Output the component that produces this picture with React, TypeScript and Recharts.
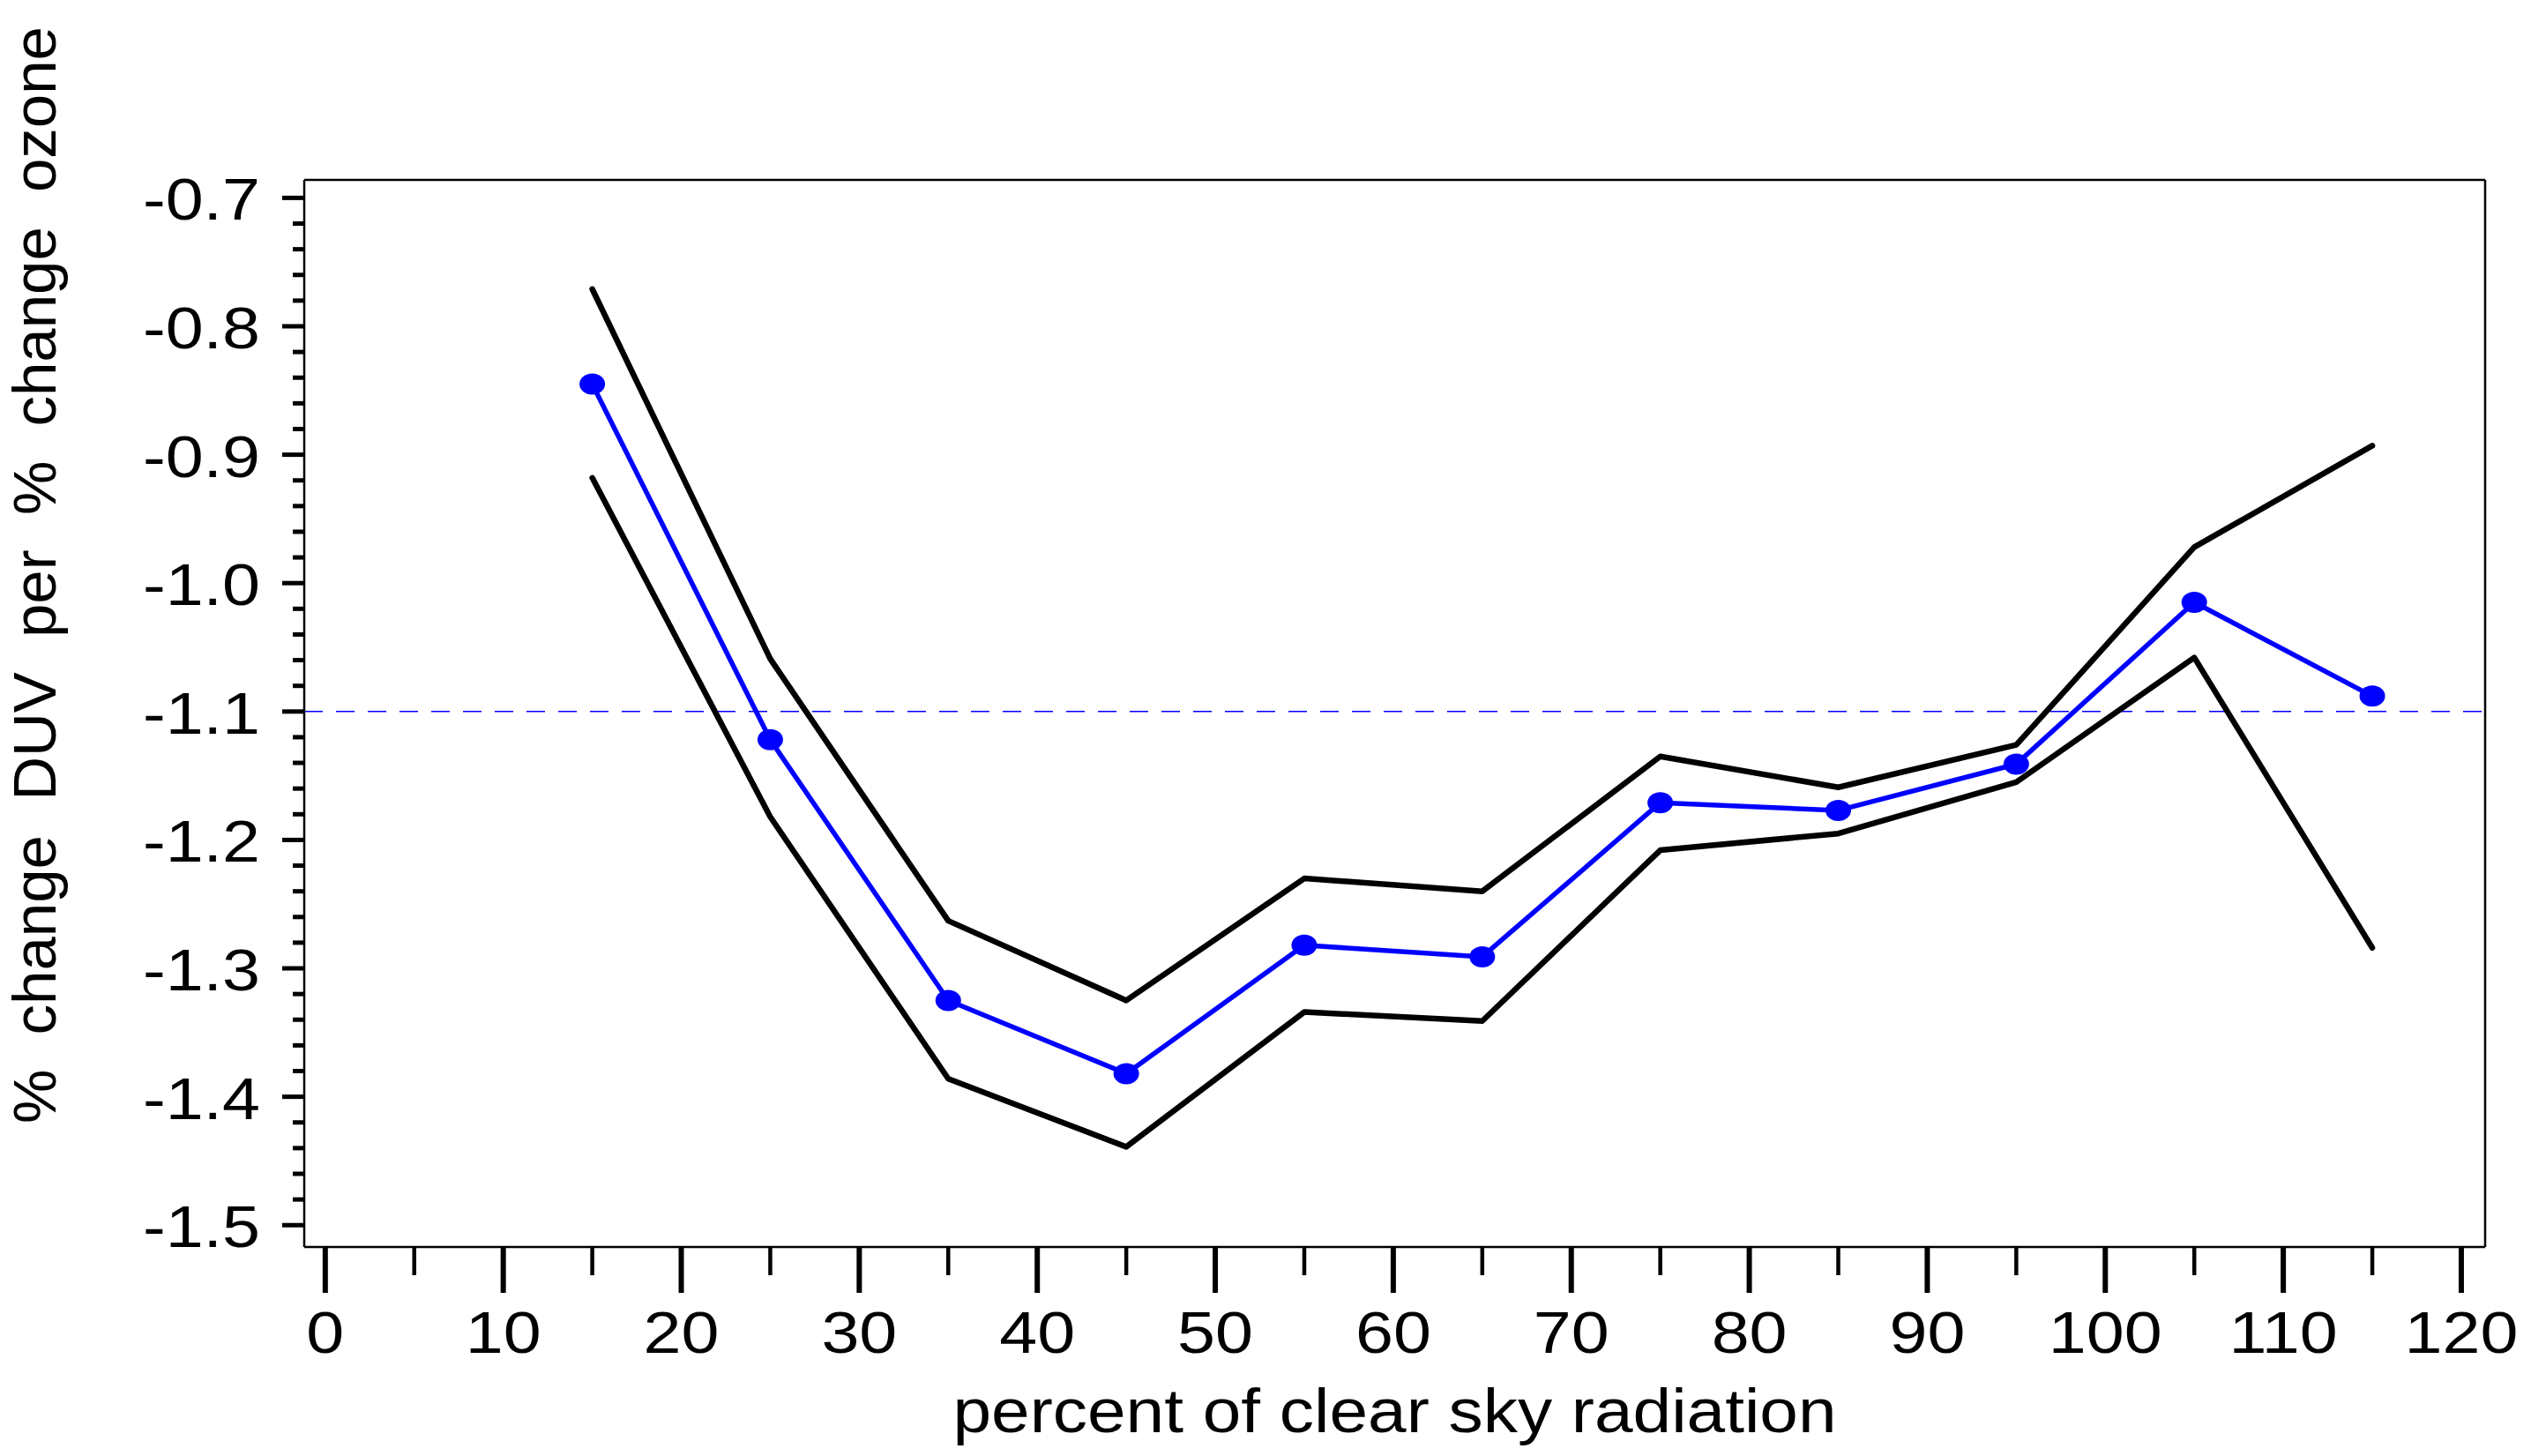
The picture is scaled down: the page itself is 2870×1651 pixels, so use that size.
import React from "react";
import { Line, LineChart, ReferenceLine, XAxis, YAxis } from "recharts";

// percent of clear sky radiation (bin centres)
const xValues = [15, 25, 35, 45, 55, 65, 75, 85, 95, 105, 115];

// % change DUV per % change ozone
const upperBound = [-0.771, -1.059, -1.263, -1.325, -1.23, -1.24, -1.135, -1.159, -1.126, -0.972, -0.893];
const meanRatio = [-0.845, -1.122, -1.325, -1.382, -1.282, -1.291, -1.171, -1.177, -1.141, -1.015, -1.088];
const lowerBound = [-0.918, -1.182, -1.386, -1.439, -1.334, -1.341, -1.208, -1.195, -1.155, -1.058, -1.284];

const referenceValue = -1.1;

const xMajorTicks = [0, 10, 20, 30, 40, 50, 60, 70, 80, 90, 100, 110, 120];
const xMinorTicks = [5, 15, 25, 35, 45, 55, 65, 75, 85, 95, 105, 115];
const yMajorTicks = [-1.5, -1.4, -1.3, -1.2, -1.1, -1.0, -0.9, -0.8, -0.7];
const yMinorTicks = [
  -1.48, -1.46, -1.44, -1.42, -1.38, -1.36, -1.34, -1.32, -1.28, -1.26, -1.24, -1.22,
  -1.18, -1.16, -1.14, -1.12, -1.08, -1.06, -1.04, -1.02, -0.98, -0.96, -0.94, -0.92,
  -0.88, -0.86, -0.84, -0.82, -0.78, -0.76, -0.74, -0.72,
];

const data = xValues.map((x, i) => ({
  x,
  upper: upperBound[i],
  mean: meanRatio[i],
  lower: lowerBound[i],
}));

const FONT = "'Liberation Sans', Arial, Helvetica, sans-serif";
const X_DOMAIN: [number, number] = [-1.18, 121.34];
const Y_DOMAIN: [number, number] = [-1.517, -0.686];

function XTick(props: any) {
  const { x, y, payload } = props;
  const major = xMajorTicks.includes(payload.value);
  return (
    <g>
      <line
        x1={x}
        x2={x}
        y1={y}
        y2={y + (major ? 52 : 32)}
        stroke="#000"
        strokeWidth={major ? 6 : 4.5}
      />
      {major && (
        <text
          transform={`translate(${x},${y + 120}) scale(1.17,1)`}
          textAnchor="middle"
          fontSize={66}
          fontFamily={FONT}
          fill="#000"
        >
          {payload.value}
        </text>
      )}
    </g>
  );
}

function YTick(props: any) {
  const { x, y, payload } = props;
  const major = yMajorTicks.includes(payload.value);
  return (
    <g>
      <line
        x1={x - (major ? 25 : 13)}
        x2={x}
        y1={y}
        y2={y}
        stroke="#000"
        strokeWidth={5}
      />
      {major && (
        <text
          transform={`translate(${x - 50},${y + 25}) scale(1.17,1)`}
          textAnchor="end"
          fontSize={66}
          fontFamily={FONT}
          fill="#000"
        >
          {payload.value.toFixed(1)}
        </text>
      )}
    </g>
  );
}

function XTitle(props: any) {
  const vb = props.viewBox || { x: 345, y: 1414, width: 2473 };
  return (
    <text
      transform={`translate(${vb.x + vb.width / 2},${vb.y + 210}) scale(1.12,1)`}
      textAnchor="middle"
      fontSize={70}
      fontFamily={FONT}
      fill="#000"
    >
      percent of clear sky radiation
    </text>
  );
}

function YTitle(props: any) {
  const vb = props.viewBox || { x: 344, y: 204, height: 1210 };
  return (
    <text
      transform={`translate(${vb.x - 281},${vb.y + vb.height / 2 - 157}) rotate(-90)`}
      textAnchor="middle"
      fontSize={69}
      fontFamily={FONT}
      wordSpacing={20}
      fill="#000"
    >
      % change DUV per % change ozone
    </text>
  );
}

function MeanDot(props: any) {
  const { cx, cy } = props;
  return <ellipse cx={cx} cy={cy} rx={14.5} ry={12} fill="#0000ff" />;
}

const frameLine = { stroke: "#000", strokeWidth: 2.5 };

export default function App() {
  return (
    <div style={{ position: "absolute", left: 0, top: 0, background: "#fff" }}>
      <LineChart
        width={2870}
        height={1651}
        data={data}
        margin={{ top: 203, right: 51, bottom: 236, left: 344 }}
      >
        <XAxis
          dataKey="x"
          type="number"
          domain={X_DOMAIN}
          allowDataOverflow
          ticks={[...xMajorTicks, ...xMinorTicks].sort((a, b) => a - b)}
          interval={0}
          height={1}
          tickSize={0}
          tickMargin={0}
          tickLine={false}
          axisLine={frameLine}
          tick={(p: any) => <XTick {...p} />}
          label={<XTitle />}
        />
        <XAxis
          xAxisId="top"
          dataKey="x"
          type="number"
          orientation="top"
          domain={X_DOMAIN}
          allowDataOverflow
          height={1}
          tick={false}
          tickLine={false}
          axisLine={frameLine}
        />
        <YAxis
          type="number"
          domain={Y_DOMAIN}
          allowDataOverflow
          ticks={[...yMajorTicks, ...yMinorTicks].sort((a, b) => a - b)}
          interval={0}
          width={1}
          tickSize={0}
          tickMargin={0}
          tickLine={false}
          axisLine={frameLine}
          tick={(p: any) => <YTick {...p} />}
          label={<YTitle />}
        />
        <YAxis
          yAxisId="right"
          type="number"
          orientation="right"
          domain={Y_DOMAIN}
          allowDataOverflow
          width={1}
          tick={false}
          tickLine={false}
          axisLine={frameLine}
        />
        <ReferenceLine
          y={referenceValue}
          stroke="#0000ff"
          strokeWidth={1.5}
          strokeDasharray="21 15"
        />
        <Line
          type="linear"
          dataKey="upper"
          stroke="#000"
          strokeWidth={6.5}
          strokeLinecap="round"
          strokeLinejoin="round"
          dot={false}
          activeDot={false}
          isAnimationActive={false}
        />
        <Line
          type="linear"
          dataKey="lower"
          stroke="#000"
          strokeWidth={6.5}
          strokeLinecap="round"
          strokeLinejoin="round"
          dot={false}
          activeDot={false}
          isAnimationActive={false}
        />
        <Line
          type="linear"
          dataKey="mean"
          stroke="#0000ff"
          strokeWidth={5.5}
          strokeLinejoin="round"
          dot={(p: any) => <MeanDot key={`dot-${p.index}`} {...p} />}
          activeDot={false}
          isAnimationActive={false}
        />
      </LineChart>
    </div>
  );
}
